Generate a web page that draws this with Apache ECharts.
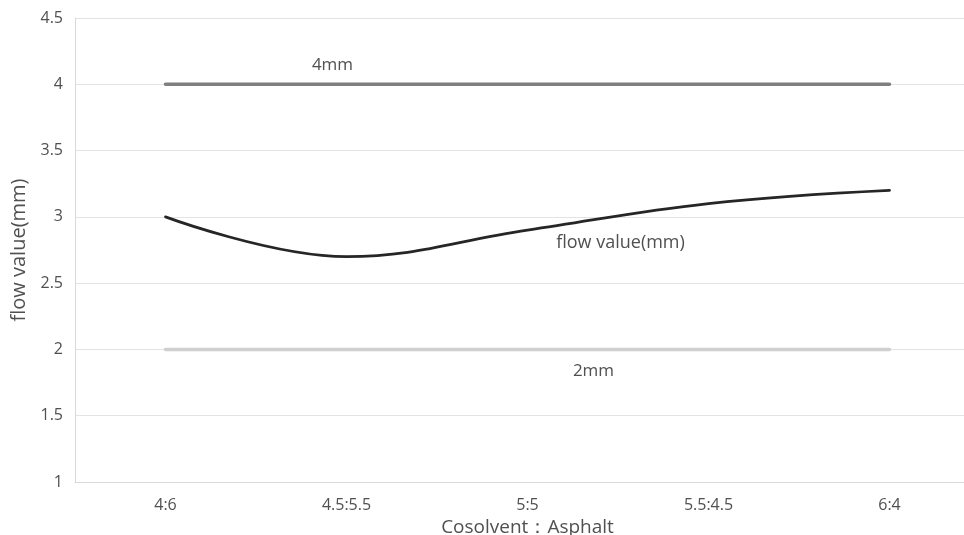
<!DOCTYPE html>
<html>
<head>
<meta charset="utf-8">
<script src="https://cdn.jsdelivr.net/npm/echarts@6/dist/echarts.min.js"></script>
<style>
  html, body { margin: 0; padding: 0; background: #ffffff; }
  #chart { width: 964px; height: 535px; }
</style>
</head>
<body>
<div id="chart"></div>
<script>
// Cosolvent : asphalt ratios on the x axis
const categories = ['4:6', '4.5:5.5', '5:5', '5.5:4.5', '6:4'];
// Measured flow value and the two reference limits (mm)
const flowValues = [3.0, 2.7, 2.9, 3.1, 3.2];
const upperLimit = [4, 4, 4, 4, 4];
const lowerLimit = [2, 2, 2, 2, 2];
const yTicks = { min: 1, max: 4.5, interval: 0.5 };

const FONT = '"Open Sans", "Noto Sans", sans-serif';
const TEXT = '#505050';
const CLEAR = 'rgba(0,0,0,0)';

// Put the series name next to one chosen point of a line
function withNameLabel(values, index, offset, size) {
  return values.map((v, i) => {
    if (i !== index) return v;
    return {
      value: v,
      label: {
        show: true,
        position: 'inside',
        offset: offset,
        formatter: '{a}',
        color: TEXT,
        fontSize: size,
        fontFamily: FONT
      }
    };
  });
}

const chart = echarts.init(document.getElementById('chart'), null, { renderer: 'canvas' });

chart.setOption({
  animation: false,
  backgroundColor: '#ffffff',
  grid: {
    left: 75, right: -16, top: 18, bottom: 53,
    outerBoundsMode: 'none',
    containLabel: false
  },
  xAxis: {
    type: 'category',
    data: categories,
    boundaryGap: true,
    name: 'Cosolvent：Asphalt',
    nameLocation: 'middle',
    nameGap: 36,
    nameTextStyle: { color: TEXT, fontSize: 19, fontFamily: FONT },
    axisLine: { lineStyle: { color: '#d9d9d9', width: 1 } },
    axisTick: { show: false },
    axisLabel: { color: TEXT, fontSize: 16, fontFamily: FONT, margin: 15 },
    splitLine: { show: false }
  },
  yAxis: {
    type: 'value',
    min: yTicks.min,
    max: yTicks.max,
    interval: yTicks.interval,
    name: 'flow value(mm)',
    nameLocation: 'middle',
    nameGap: 46,
    nameRotate: 90,
    nameTextStyle: { color: TEXT, fontSize: 20, fontFamily: FONT },
    axisLine: { show: true, lineStyle: { color: '#d9d9d9', width: 1 } },
    axisTick: { show: false },
    axisLabel: { color: TEXT, fontSize: 16, fontFamily: FONT, margin: 12 },
    splitLine: { show: true, lineStyle: { color: '#e3e3e3', width: 1 } }
  },
  series: [
    {
      name: '4mm',
      type: 'line',
      data: withNameLabel(upperLimit, 1, [-14, -19], 17),
      symbol: 'circle',
      symbolSize: 1,
      showSymbol: true,
      itemStyle: { color: CLEAR, borderWidth: 0 },
      lineStyle: { color: '#7f7f7f', width: 3.5, cap: 'round' },
      z: 3
    },
    {
      name: 'flow value(mm)',
      type: 'line',
      data: withNameLabel(flowValues, 2, [93, 13], 18),
      smooth: 0.4,
      symbol: 'circle',
      symbolSize: 1,
      showSymbol: true,
      itemStyle: { color: CLEAR, borderWidth: 0 },
      lineStyle: { color: '#262626', width: 2.8, cap: 'round' },
      z: 4
    },
    {
      name: '2mm',
      type: 'line',
      data: withNameLabel(lowerLimit, 2, [66, 22], 17),
      symbol: 'circle',
      symbolSize: 1,
      showSymbol: true,
      itemStyle: { color: CLEAR, borderWidth: 0 },
      lineStyle: { color: '#d0d0d0', width: 3.5, cap: 'round' },
      z: 2
    }
  ]
});
</script>
</body>
</html>
